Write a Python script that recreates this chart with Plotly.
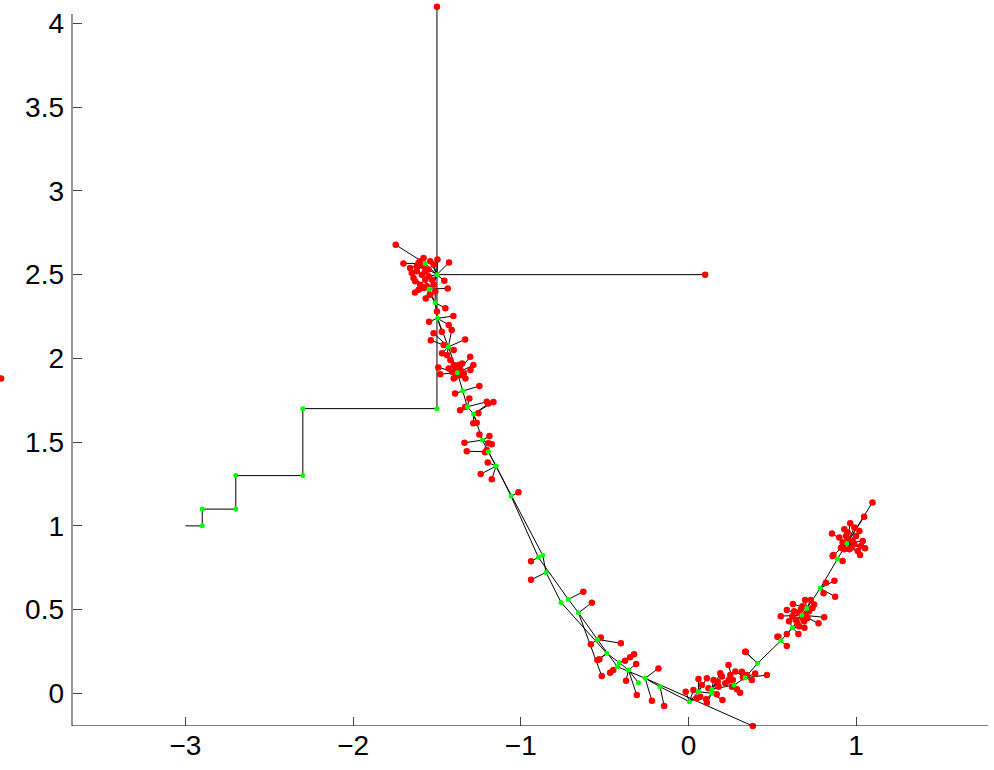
import plotly.graph_objects as go

# Coordinate search: staircase of accepted steps (green) and two long probes (red ends)
step_x = [-3.0, -2.9, -2.9, -2.7, -2.7, -2.3, -2.3, -1.5]
step_y = [1.0, 1.0, 1.1, 1.1, 1.3, 1.3, 1.7, 1.7]
probe_start_x = [-1.5, -1.5]
probe_start_y = [1.7, 2.5]
probe_end_x = [-1.5, 0.1]
probe_end_y = [4.1, 2.5]

# Tree nodes along the valley (green) with parent index (-1 = root)
node_x = [-1.500, -1.571, -1.547, -1.511, -1.497, -1.432, -1.378, -1.346, -1.319, -1.281,
          -1.229, -1.193, -1.147, -1.058, -0.895, -0.869, -0.849, -0.760, -0.716, -0.656,
          -0.543, -0.487, -0.412, -0.424, -0.358, -0.298, -0.258, -0.169, 0.006, 0.060,
          0.140, 0.140, 0.273, 0.338, 0.412, 0.551, 0.621, 0.677, 0.706, 0.786,
          0.889, 0.945]
node_y = [2.500, 2.567, 2.414, 2.332, 2.239, 2.069, 1.914, 1.805, 1.711, 1.667,
          1.512, 1.442, 1.357, 1.178, 0.812, 0.824, 0.722, 0.543, 0.561, 0.481,
          0.322, 0.239, 0.183, 0.159, 0.139, 0.063, 0.090, 0.039, -0.050, 0.010,
          0.000, 0.024, 0.050, 0.093, 0.179, 0.314, 0.392, 0.467, 0.507, 0.627,
          0.802, 0.895]
node_parent = [-1, 0, 0, 2, 3, 4, 5, 6, 7, 8,
               9, 10, 11, 12, 13, 11, 15, 16, 14, 18,
               19, 17, 21, 20, 22, 24, 23, 26, 27, 28,
               29, 30, 31, 32, 33, 34, 35, 36, 37, 38,
               39, 40]

# Trial samples (red) attached to tree nodes
leaf_x = [-1.746, -1.700, -1.497, -1.428, -1.456, -1.436, -1.631, -1.567,
          -1.600, -1.580, -1.620, -1.640, -1.590, -1.550, -1.530, -1.600, -1.570, -1.520, -1.650, -1.560, -1.510, -1.610,
          -1.580, -1.540, -1.620, -1.660, -1.570, -1.550, -1.630, -1.580, -1.520, -1.610, -1.540,
          -1.547, -1.402, -1.412, -1.471, -1.537, -1.332, -1.460, -1.470, -1.500, -1.450,
          -1.430, -1.520, -1.400, -1.440,
          -1.420, -1.400, -1.380, -1.360, -1.410, -1.390, -1.360, -1.430, -1.350, -1.302, -1.283, -1.492, -1.481, -1.300, -1.330,
          -1.390, -1.370, -1.400, -1.340,
          -1.392, -1.247, -1.307, -1.203, -1.362, -1.332, -1.193, -1.163, -1.253, -1.283, -1.263,
          -1.247, -1.187, -1.193, -1.173, -1.336, -1.322, -1.213, -1.203, -1.197, -1.239, -1.173,
          -1.014, -0.939, -0.939, -0.627, -0.576,
          -0.523, -0.582, -0.403, -0.531, -0.543, -0.517,
          -0.324, -0.348, -0.378, -0.448, -0.467, -0.312, -0.372, -0.308,
          -0.179, -0.218, -0.145, 0.384,
          -0.016, 0.030, 0.060, 0.110, 0.175, 0.239, 0.265, 0.319, 0.325, 0.289, 0.308, 0.203, 0.110, 0.106, 0.169, 0.070,
          0.348, 0.378, 0.398, 0.468, 0.342, 0.220, 0.250, 0.200, 0.280,
          0.080, 0.120, 0.180, 0.240, 0.260, 0.150, 0.050, 0.190,
          0.587, 0.537, 0.338,
          0.551, 0.587, 0.623, 0.696, 0.730, 0.810, 0.776, 0.692, 0.656, 0.587, 0.531,
          0.660, 0.680, 0.700, 0.640, 0.720, 0.670, 0.690, 0.650, 0.740, 0.620,
          0.630, 0.710, 0.750, 0.600, 0.680, 0.660,
          0.871, 0.875, 0.806, 0.820, 0.920, 0.860,
          0.856, 1.054, 0.965, 1.024, 0.865, 0.930, 0.990, 1.000, 0.950, 0.920, 0.970, 1.030, 0.900, 0.960, 1.010, 0.980, 0.940, 1.040, 0.910,
          0.950, 0.990, 0.930, 1.020,
          1.048, 1.098]
leaf_y = [2.678, 2.567, 2.590, 2.573, 2.463, 2.418, 2.394, 2.358,
          2.580, 2.550, 2.520, 2.480, 2.500, 2.530, 2.470, 2.440, 2.470, 2.560, 2.510, 2.430, 2.400, 2.570,
          2.600, 2.580, 2.550, 2.540, 2.520, 2.490, 2.460, 2.420, 2.440, 2.410, 2.380,
          2.219, 2.253, 2.169, 2.159, 2.109, 2.113, 2.080, 2.030, 2.280, 2.300,
          2.200, 2.150, 2.050, 2.020,
          1.990, 1.960, 1.950, 1.930, 1.920, 1.890, 1.900, 1.940, 1.970, 2.009, 1.960, 1.946, 1.906, 1.930, 1.880,
          1.930, 1.960, 1.880, 1.910,
          1.791, 1.835, 1.761, 1.741, 1.691, 1.710, 1.730, 1.740, 1.672, 1.612, 1.616,
          1.546, 1.536, 1.493, 1.488, 1.496, 1.446, 1.439, 1.453, 1.379, 1.309, 1.279,
          1.200, 0.788, 0.678, 0.607, 0.541,
          0.334, 0.293, 0.299, 0.203, 0.199, 0.103,
          0.233, 0.215, 0.195, 0.139, 0.123, 0.175, 0.075, -0.010,
          0.149, -0.044, -0.076, -0.195,
          0.010, 0.020, 0.085, 0.090, 0.069, 0.169, 0.079, 0.129, 0.096, 0.024, 0.004, -0.040, -0.056, -0.036, -0.006, -0.020,
          0.109, 0.079, 0.119, 0.109, 0.248, 0.060, 0.110, 0.100, 0.130,
          0.050, 0.030, 0.040, 0.080, 0.040, 0.080, -0.030, 0.120,
          0.282, 0.338, 0.248,
          0.461, 0.497, 0.533, 0.557, 0.557, 0.454, 0.418, 0.392, 0.354, 0.354, 0.338,
          0.480, 0.450, 0.470, 0.440, 0.490, 0.500, 0.430, 0.420, 0.510, 0.460,
          0.490, 0.450, 0.530, 0.430, 0.520, 0.400,
          0.672, 0.577, 0.597, 0.660, 0.790, 0.820,
          0.955, 0.866, 1.015, 0.826, 0.826, 0.980, 0.990, 0.940, 0.920, 0.900, 0.870, 0.880, 0.930, 0.860, 0.850, 0.910, 0.940, 0.910, 0.870,
          0.960, 0.890, 0.860, 0.970,
          1.054, 1.140]
leaf_parent = [1, 1, 0, 0, 0, 2, 2, 2,
               1, 1, 1, 2, 2, 0, 0, 2, 2, 0, 1, 2, 3, 1,
               1, 0, 1, 1, 1, 0, 2, 2, 0, 2, 3,
               4, 4, 5, 4, 5, 5, 5, 5, 3, 3,
               4, 5, 5, 5,
               6, 6, 6, 6, 6, 6, 6, 6, 6, 6, 6, 6, 6, 6, 6,
               6, 6, 6, 6,
               7, 7, 8, 8, 8, 8, 9, 9, 9, 9, 9,
               10, 10, 10, 10, 10, 11, 11, 11, 12, 12, 12,
               13, 14, 16, 18, 19,
               20, 20, 20, 21, 21, 19,
               22, 22, 22, 23, 23, 24, 24, 24,
               26, 26, 27, 26,
               28, 28, 29, 29, 31, 32, 32, 33, 33, 32, 32, 30, 30, 30, 31, 29,
               33, 33, 33, 33, 34, 32, 32, 31, 33,
               29, 30, 31, 32, 32, 31, 28, 31,
               35, 35, 34,
               37, 37, 38, 38, 38, 37, 37, 36, 36, 36, 35,
               37, 37, 38, 37, 38, 38, 37, 36, 38, 37,
               37, 38, 38, 36, 38, 36,
               39, 39, 39, 39, 40, 40,
               41, 41, 41, 41, 41, 41, 41, 41, 41, 41, 41, 41, 41, 41, 41, 41, 41, 41, 41,
               41, 41, 41, 41,
               41, 41]

# A stray sample that lies left of the axes box
stray_x = [-4.10]
stray_y = [1.88]

# Axes box limits
x_lo, x_hi = -3.677, 1.787
y_lo, y_axis_top, y_hi = -0.195, 4.056, 4.11

# Build edge segments (None-separated) from the arrays
seg_x, seg_y = [], []
for i, p in enumerate(node_parent):
    if p >= 0:
        seg_x += [node_x[p], node_x[i], None]
        seg_y += [node_y[p], node_y[i], None]
for i, p in enumerate(leaf_parent):
    seg_x += [node_x[p], leaf_x[i], None]
    seg_y += [node_y[p], leaf_y[i], None]
for sx, sy, ex, ey in zip(probe_start_x, probe_start_y, probe_end_x, probe_end_y):
    seg_x += [sx, ex, None]
    seg_y += [sy, ey, None]

fig = go.Figure()
line_style = dict(color="black", width=1)
fig.add_trace(go.Scatter(x=step_x, y=step_y, mode="lines", line=line_style,
                         hoverinfo="skip", showlegend=False))
fig.add_trace(go.Scatter(x=seg_x, y=seg_y, mode="lines", line=line_style,
                         hoverinfo="skip", showlegend=False))
fig.add_trace(go.Scatter(x=leaf_x + probe_end_x + stray_x, y=leaf_y + probe_end_y + stray_y,
                         mode="markers", cliponaxis=False,
                         marker=dict(color="#ff0000", size=6.5, line=dict(width=0)),
                         showlegend=False))
fig.add_trace(go.Scatter(x=step_x[1:] + node_x, y=step_y[1:] + node_y,
                         mode="markers", cliponaxis=False,
                         marker=dict(color="#00ff00", size=5, line=dict(width=0)),
                         showlegend=False))

# Plot area spans the full width; the visible axes box starts at x_lo
W, H = 994, 770
m_l, m_r, m_t, m_b = 0, 6, 5, 44
box_left_px = 72
px_per_unit = (W - m_r - box_left_px) / (x_hi - x_lo)
x_view_lo = x_lo - box_left_px / px_per_unit
y_pos = box_left_px / (W - m_l - m_r)

fig.add_shape(type="line", xref="x", yref="y", x0=x_lo, x1=x_lo, y0=y_lo, y1=y_axis_top,
              line=dict(color="#6a6a6a", width=1.4), layer="above")
fig.add_shape(type="line", xref="x", yref="y", x0=x_lo, x1=x_hi, y0=y_lo, y1=y_lo,
              line=dict(color="black", width=1.2), layer="above")

font = dict(family="Liberation Sans, Arial, sans-serif", size=28, color="black")
fig.update_layout(
    width=W, height=H,
    margin=dict(l=m_l, r=m_r, t=m_t, b=m_b),
    paper_bgcolor="white", plot_bgcolor="white",
    font=font,
    xaxis=dict(range=[x_view_lo, x_hi], tickvals=[-3, -2, -1, 0, 1],
               showgrid=False, zeroline=False, showline=False,
               ticks="inside", ticklen=9, tickcolor="#444", tickwidth=1, tickfont=font),
    yaxis=dict(range=[y_lo, y_hi], tickvals=[0, 0.5, 1, 1.5, 2, 2.5, 3, 3.5, 4],
               anchor="free", position=y_pos,
               showgrid=False, zeroline=False, showline=False,
               ticks="inside", ticklen=9, tickcolor="#444", tickwidth=1, tickfont=font,
               ticklabelstandoff=8),
)

fig.write_html("out.html")
